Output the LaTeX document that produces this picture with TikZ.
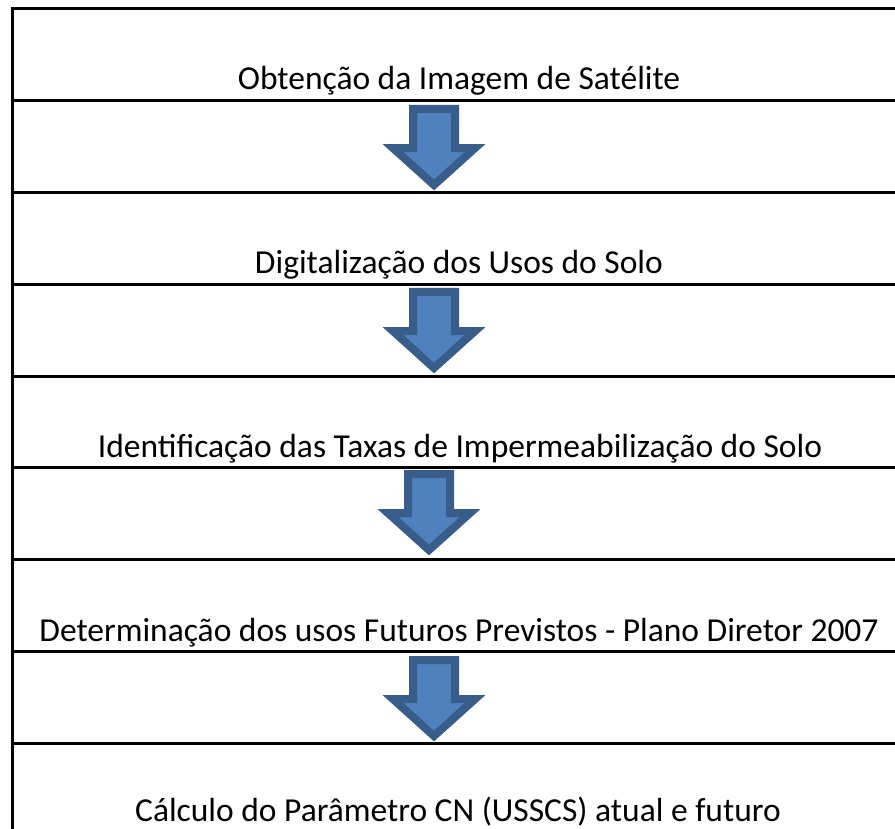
\documentclass[tikz,border=0pt]{standalone}
\usepackage{fontspec}
\setmainfont{Carlito}
\usetikzlibrary{shapes.arrows}
\definecolor{StepBlue}{HTML}{4F81BD}
\definecolor{StepEdge}{HTML}{385D8A}

\begin{document}
\begin{tikzpicture}[x=1pt,y=-1pt,
  rowline/.style={line width=3pt},
  steplabel/.style={font=\fontsize{33.5}{40}\selectfont,inner sep=0pt,anchor=base},
  downarrow/.style={single arrow,shape border rotate=270,draw=StepEdge,fill=StepBlue,
    line width=8pt,inner sep=17pt,outer sep=0pt,minimum height=76pt,
    single arrow head extend=20pt,single arrow tip angle=96,anchor=tail}]
  \useasboundingbox (0,0) rectangle (895,829);
  \clip (0,0) rectangle (895,829);
  % table frame and row lines
  \draw[rowline] (12,845) -- (12,9) -- (910,9);
  \draw[rowline] (12,100.8) -- (910,100.8) (12,192.5) -- (910,192.5)
    (12,284.3) -- (910,284.3) (12,376) -- (910,376)
    (12,467.8) -- (910,467.8) (12,559.5) -- (910,559.5)
    (12,651.3) -- (910,651.3) (12,743) -- (910,743);
  % steps
  \node[steplabel] (obt) at (459,90) {Obtenção da Imagem de Satélite};
  \node[steplabel] (dig) at (459,274) {Digitalização dos Usos do Solo};
  \node[steplabel] (ide) at (460,457) {Identificação das Taxas de Impermeabilização do Solo};
  \node[steplabel] (det) at (459,641) {Determinação dos usos Futuros Previstos - Plano Diretor 2007};
  \node[steplabel] (cal) at (458,821) {Cálculo do Parâmetro CN (USSCS) atual e futuro};
  % block arrows
  \node[downarrow] (a1) at (434,109) {};
  \node[downarrow] (a2) at (434,292) {};
  \node[downarrow] (a3) at (429,474) {};
  \node[downarrow] (a4) at (434,660) {};
\end{tikzpicture}
\end{document}
